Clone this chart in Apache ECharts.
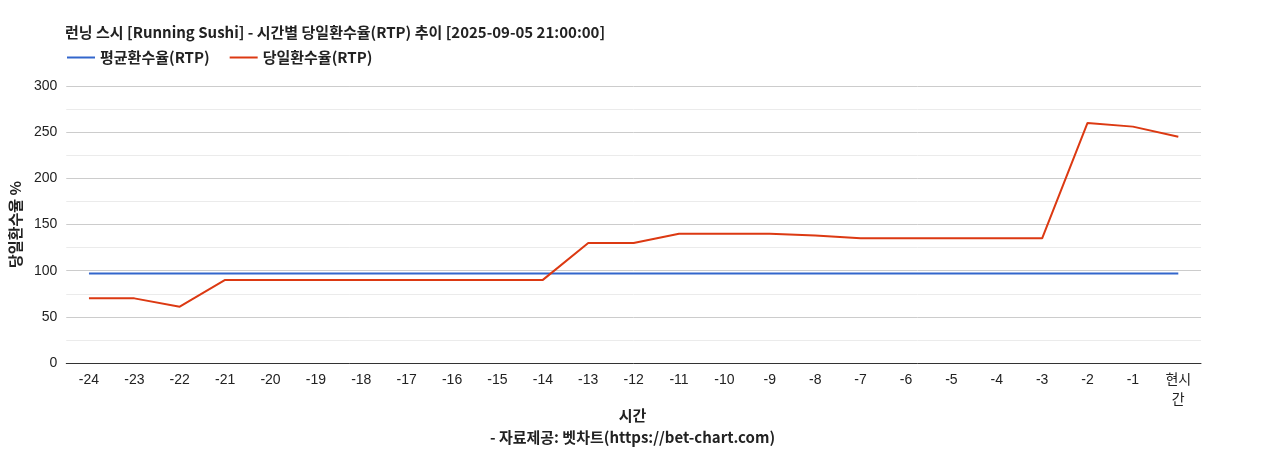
<!DOCTYPE html>
<html style="height: 100%">
<head>
    <meta charset="utf-8">
    <script src="https://cdn.jsdelivr.net/npm/echarts@6/dist/echarts.min.js"></script>
    <title>당일환수율 추이</title>
</head>
<body style="height: 100%; margin: 0">
<div id="container" style="width: 1265px; height: 450px"></div>
<script type="text/javascript">
let hours = ['-24','-23','-22','-21','-20','-19','-18','-17','-16','-15','-14','-13',
             '-12','-11','-10','-9','-8','-7','-6','-5','-4','-3','-2','-1','현시간']
let avgRtp = [97,97,97,97,97,97,97,97,97,97,97,97,97,97,97,97,97,97,97,97,97,97,97,97,97]
let dayRtp = [70,70,61,90,90,90,90,90,90,90,90,130,130,140,140,140,138,135,135,135,135,135,260,256,245]
let yTicks = [0, 50, 100, 150, 200, 250, 300]

let font = '"Liberation Sans", Arial, "Noto Sans CJK KR", sans-serif'
let krFont = '"Noto Sans CJK KR", sans-serif'
let chart = echarts.init(document.getElementById('container'))
chart.setOption({
    animation: false,
    title: {
        text: '런닝 스시 [Running Sushi] - 시간별 당일환수율(RTP) 추이 [2025-09-05 21:00:00]',
        left: 60, top: 20,
        textStyle: {fontSize: 15, fontWeight: 'bold', color: '#222', fontFamily: krFont}
    },
    legend: {
        left: 62, top: 45,
        itemWidth: 28, itemHeight: 2, itemGap: 20,
        icon: 'rect',
        textStyle: {fontSize: 15, fontWeight: 'bold', color: '#222', fontFamily: krFont},
        data: ['평균환수율(RTP)', '당일환수율(RTP)']
    },
    grid: {left: 64, right: 64, top: 86, bottom: 87},
    graphic: [
        // x axis title sits between the wrapped last label and the footer
        {
            type: 'text', left: 'center', top: 408,
            style: {text: '시간', fontSize: 15, fontWeight: 'bold', fill: '#222', fontFamily: krFont}
        },
        {
            type: 'text', left: 'center', top: 430,
            style: {text: '- 자료제공: 벳차트(https://bet-chart.com)', fontSize: 15, fontWeight: 'bold',
                    fill: '#222', fontFamily: krFont}
        }
    ],
    xAxis: {
        type: 'category',
        data: hours,
        axisLine: {lineStyle: {color: '#333'}},
        axisTick: {show: false},
        axisLabel: {
            color: '#222', fontSize: 14, fontFamily: font, margin: 7, interval: 0, lineHeight: 20,
            formatter: v => v === '현시간' ? '현시\n간' : v
        }
    },
    yAxis: {
        type: 'value',
        min: yTicks[0], max: yTicks[yTicks.length - 1], interval: 50,
        name: '당일환수율 %', nameLocation: 'middle', nameGap: 38,
        nameTextStyle: {fontSize: 15, fontWeight: 'bold', color: '#222', fontFamily: krFont},
        axisLine: {show: false},
        axisTick: {show: false},
        axisLabel: {color: '#222', fontSize: 14, fontFamily: font, margin: 9},
        splitLine: {lineStyle: {color: '#cccccc'}},
        minorTick: {show: false, splitNumber: 2},
        minorSplitLine: {show: true, lineStyle: {color: '#ebebeb'}}
    },
    series: [
        {
            name: '평균환수율(RTP)', type: 'line', data: avgRtp,
            symbol: 'none', lineStyle: {width: 2, color: '#3366cc'}, itemStyle: {color: '#3366cc'}
        },
        {
            name: '당일환수율(RTP)', type: 'line', data: dayRtp,
            symbol: 'none', lineStyle: {width: 2, color: '#dc3912'}, itemStyle: {color: '#dc3912'}
        }
    ]
})
</script>
</body>
</html>
